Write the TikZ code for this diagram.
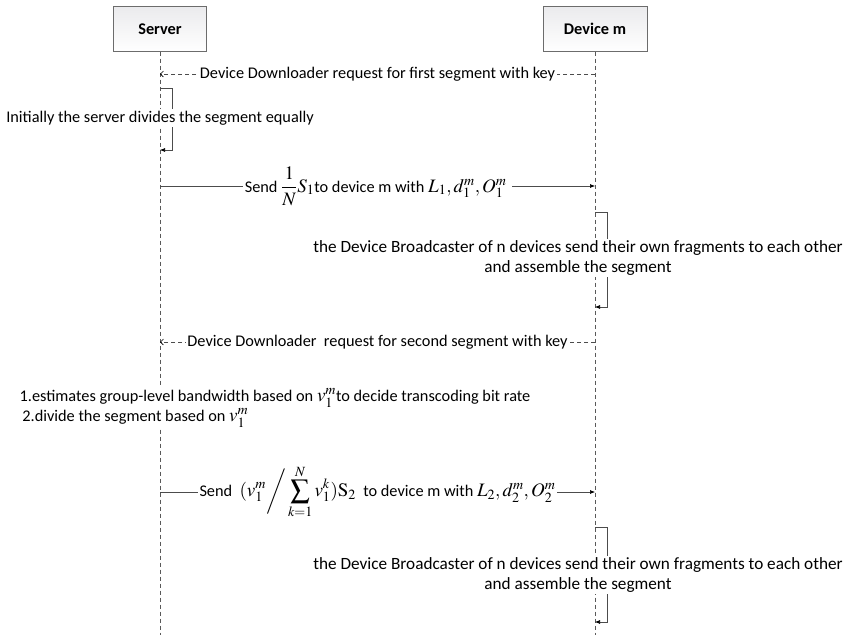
\documentclass[tikz,border=0pt]{standalone}
\usepackage{amsmath}
\usepackage{mathptmx}
\usepackage{fontspec}
\setmainfont{Carlito}
\usetikzlibrary{arrows.meta,positioning}
\newcommand{\bigmath}[1]{{\fontsize{19}{20}\selectfont$#1$}}
\begin{document}
\begin{tikzpicture}[x=1pt,y=-1pt,
        every node/.style = {font=\fontsize{16.3}{20}\selectfont},
        actor/.style = {draw=gray!85!black, top color=blue!6!gray!15, bottom color=white,
            minimum height=45pt, font=\fontsize{16.3}{18}\selectfont\bfseries},
        lifeline/.style = {draw=gray!70!black, dash pattern=on 4pt off 3pt},
        call/.style = {draw=gray!60!black, line width=0.6pt, -{Latex[length=5pt,width=4pt,color=black]}},
        reply/.style = {draw=gray!60!black, line width=0.6pt, dash pattern=on 4pt off 3pt,
            -{Straight Barb[length=3pt,width=6pt,color=black]}},
        note/.style = {fill=white, inner sep=1.5pt, align=center},
        wide note/.style = {note, font=\fontsize{17.2}{20}\selectfont}
    ]
    \useasboundingbox (0,0) rectangle (852,635);
    % actors and lifelines
    \node[actor, minimum width=93pt] (server) at (160,29) {Server};
    \node[actor, minimum width=104pt] (device) at (595,29) {Device m};
    \coordinate (server end) at (160,635);
    \coordinate (device end) at (595,635);
    \draw[lifeline] (server) -- (server end);
    \draw[lifeline] (device) -- (device end);
    % points on the lifelines
    \foreach \n/\y in {a/74,b/88,c/150,d/186,e/212,f/307,g/342,h/492,i/527,j/622} {
        \coordinate (s\n) at (160,\y);
        \coordinate (d\n) at (595,\y);
    }
    \coordinate (sloop) at (172,0);
    \coordinate (dloop) at (607,0);
    % first segment
    \draw[reply] (da) -- node[note] {Device Downloader request for first segment with key} (sa);
    \draw[call] (sb) -| (sloop |- sb) -- (sloop |- sc) -- (sc);
    \node[note] (split) at (160,118) {Initially the server divides the segment equally};
    \draw[call] (sd) -- node[note] {Send \bigmath{\dfrac{1}{N}S_1}to device m with \bigmath{L_1, d_1^m, O_1^m}\ } (dd);
    \draw[call] (de) -- (dloop |- de) -- (dloop |- df) -- (df);
    \node[wide note] (share1) at (578,258) {the Device Broadcaster of n devices send their own fragments to each other\\and assemble the segment};
    % second segment
    \draw[reply] (dg) -- node[note] {Device Downloader\ \ request for second segment with key} (sg);
    \node[note, align=left, anchor=west] (estimate) at (18,408) {1.estimates group-level bandwidth based on \bigmath{v_1^m}to decide transcoding bit rate\\\,2.divide the segment based on \bigmath{v_1^m}};
    \draw[call] (sh) -- node[note] {Send \ \bigmath{\displaystyle (v_1^m\bigg/\sum_{k=1}^{N} v_1^k)\mathrm{S}_2} \ to device m with \bigmath{L_2, d_2^m, O_2^m}} (dh);
    \draw[call] (di) -- (dloop |- di) -- (dloop |- dj) -- (dj);
    \node[wide note] (share2) at (578,575) {the Device Broadcaster of n devices send their own fragments to each other\\and assemble the segment};
\end{tikzpicture}
\end{document}
